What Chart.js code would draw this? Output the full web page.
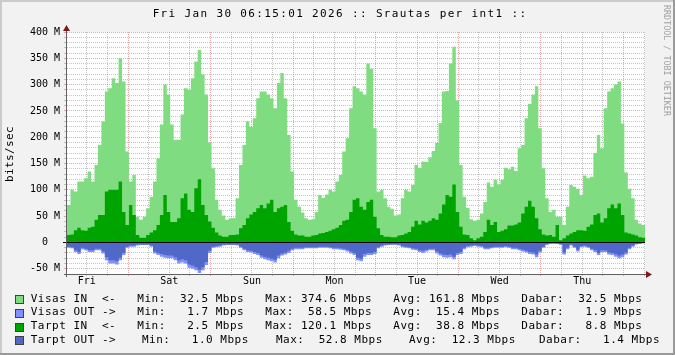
<!DOCTYPE html>
<html>
<head>
<meta charset="utf-8">
<title>Srautas per int1</title>
<script src="https://cdn.jsdelivr.net/npm/chart.js@4.4.1/dist/chart.umd.min.js"></script>
<style>
  html, body { margin: 0; padding: 0; background: #f2f2f2; }
  canvas { display: block; }
</style>
</head>
<body>
<canvas id="traffic_chart" width="675" height="355"></canvas>
<script>
// one value per hour, Fri Jan 23 06:15 .. Fri Jan 30 06:15 (Mbps)
var day_labels = ['Fri', 'Sat', 'Sun', 'Mon', 'Tue', 'Wed', 'Thu'];

var visas_in = [
  71,100,97,116,116,122,135,116,147,185,
  230,287,293,312,303,350,306,173,116,128,
  49,43,49,65,87,116,160,224,300,281,
  224,195,195,243,293,290,312,344,366,319,
  281,190,141,81,62,51,43,46,46,84,
  147,185,230,220,236,274,287,287,281,274,
  255,303,322,274,204,135,81,68,57,46,
  43,44,58,90,85,91,100,97,116,128,
  173,198,255,297,293,287,281,340,330,217,
  97,100,84,68,64,51,53,84,100,97,
  109,147,142,154,153,162,174,189,227,287,
  288,340,372,270,147,87,66,44,41,43,
  55,77,114,106,119,110,119,142,139,144,
  136,179,185,236,263,281,297,217,141,84,
  58,62,49,49,33,68,109,106,102,90,
  127,122,125,170,204,179,255,287,293,300,
  306,226,133,102,84,43,36,33
];

var tarpt_in = [
  14,15,23,28,23,22,28,30,43,52,
  52,97,100,100,100,116,58,33,71,52,
  14,9,9,14,19,23,33,52,90,58,
  39,39,46,84,93,62,58,103,120,71,
  52,40,28,19,13,11,11,14,14,15,
  27,33,46,53,58,65,71,65,74,81,
  58,65,68,71,39,22,15,13,13,11,
  11,13,14,17,18,20,22,25,28,33,
  41,43,58,81,84,68,62,77,81,49,
  27,14,11,11,10,10,13,14,17,20,
  30,41,34,41,38,41,46,43,55,72,
  90,87,110,58,30,15,14,8,4,8,
  11,20,43,33,39,20,22,25,32,32,
  34,38,55,68,79,68,46,25,15,13,
  14,11,33,4,8,13,17,20,23,23,
  22,30,34,52,55,38,46,65,72,65,
  74,52,19,17,15,13,10,9
];

// OUT traffic is drawn below zero
var visas_out = [
  10,11,18,22,13,15,18,18,15,15,
  21,34,40,40,42,34,24,10,8,8,
  6,5,5,5,8,21,24,27,29,30,
  30,34,40,38,40,48,50,53,58,53,
  43,20,10,9,8,6,5,5,5,6,
  10,15,18,19,22,24,29,32,34,36,
  38,30,25,23,20,15,13,13,13,11,
  11,11,11,10,10,10,11,13,13,14,
  15,17,21,24,34,36,27,24,24,22,
  11,8,6,5,5,5,6,9,10,11,
  14,15,18,20,17,15,15,21,25,28,
  29,28,32,24,22,13,9,8,7,8,
  9,13,13,11,10,10,10,9,10,13,
  13,15,17,19,22,23,28,19,10,5,
  3,3,3,5,23,13,6,10,17,9,
  8,10,15,18,24,18,18,23,24,27,
  30,28,23,13,8,4,3,2
];

var tarpt_out = [
  8,9,15,18,10,12,15,15,12,12,
  17,28,34,34,36,29,20,8,6,6,
  4,4,4,4,6,17,20,22,24,25,
  25,28,34,32,34,42,44,47,52,47,
  37,16,8,7,6,4,4,4,4,4,
  8,12,15,16,18,20,25,27,29,31,
  33,25,21,19,16,12,10,10,10,9,
  9,9,9,8,8,8,9,10,10,11,
  12,14,17,20,29,31,22,20,20,18,
  9,6,4,4,3,3,4,7,8,9,
  11,12,15,16,14,12,12,17,21,23,
  24,23,27,20,18,10,7,6,5,6,
  7,10,10,9,8,8,8,7,8,10,
  10,12,14,16,18,19,23,16,8,3,
  2,1,2,3,19,10,4,8,14,7,
  6,8,12,15,20,15,15,19,20,22,
  25,23,19,10,6,3,2,1
];

var legend_names = ['Visas IN  <-', 'Visas OUT ->', 'Tarpt IN  <-', 'Tarpt OUT ->'];
var legend_min = ['32.5', '1.7', '2.5', '1.0'];
var legend_max = ['374.6', '58.5', '120.1', '52.8'];
var legend_avg = ['161.8', '15.4', '38.8', '12.3'];
var legend_cur = ['32.5', '1.9', '8.8', '1.4'];

var series_colors = ['#80dc80', '#8090ff', '#00a400', '#5068c8'];

var MONO = '"DejaVu Sans Mono", "Liberation Mono", monospace';
var GRID_MINOR = 'rgba(140,140,140,0.5)';
var GRID_MAJOR = 'rgba(200,70,70,0.45)';

// stepped area: every hourly value holds until the next hour
var to_points = function(values, sign) {
  var pts = values.map(function(v, i) { return {x: i, y: sign * v}; });
  pts.push({x: values.length, y: sign * values[values.length - 1]});
  return pts;
};

var pad5 = function(s) {
  while (s.length < 5) s = ' ' + s;
  return s;
};

var rrd_decor = {
  id: 'rrd_decor',
  beforeDraw: function(chart) {
    var ctx = chart.ctx, a = chart.chartArea, w = chart.width, h = chart.height;
    ctx.save();
    ctx.fillStyle = '#f2f2f2';
    ctx.fillRect(0, 0, w, h);
    ctx.fillStyle = '#cbcbcb';
    ctx.fillRect(0, 0, w, 2);
    ctx.fillRect(0, 0, 2, h);
    ctx.fillStyle = '#999999';
    ctx.fillRect(0, h - 2, w, 2);
    ctx.fillRect(w - 2, 0, 2, h);
    ctx.fillStyle = '#ffffff';
    ctx.fillRect(a.left, a.top, a.right - a.left, a.bottom - a.top);
    ctx.restore();
  },
  afterDatasetsDraw: function(chart) {
    var ctx = chart.ctx, a = chart.chartArea;
    var y0 = Math.round(chart.scales.y.getPixelForValue(0)) + 0.5;
    ctx.save();
    // zero rule
    ctx.strokeStyle = '#000000';
    ctx.lineWidth = 1;
    ctx.beginPath();
    ctx.moveTo(a.left - 4, y0);
    ctx.lineTo(a.right, y0);
    ctx.stroke();
    // axes
    ctx.strokeStyle = '#606060';
    ctx.beginPath();
    ctx.moveTo(a.left - 0.5, a.bottom + 3);
    ctx.lineTo(a.left - 0.5, a.top - 1);
    ctx.moveTo(a.left - 3, a.bottom + 0.5);
    ctx.lineTo(a.right + 2, a.bottom + 0.5);
    ctx.stroke();
    // arrows
    ctx.fillStyle = '#801818';
    ctx.beginPath();
    ctx.moveTo(a.left - 0.5, a.top - 7);
    ctx.lineTo(a.left - 4, a.top - 1);
    ctx.lineTo(a.left + 3, a.top - 1);
    ctx.closePath();
    ctx.fill();
    ctx.beginPath();
    ctx.moveTo(a.right + 7, a.bottom + 0.5);
    ctx.lineTo(a.right + 1, a.bottom - 3);
    ctx.lineTo(a.right + 1, a.bottom + 4);
    ctx.closePath();
    ctx.fill();
    ctx.restore();
  },
  afterDraw: function(chart) {
    var ctx = chart.ctx;
    ctx.save();
    ctx.fillStyle = '#000000';
    ctx.textBaseline = 'middle';

    // title
    ctx.font = '11px ' + MONO;
    ctx.letterSpacing = '1.35px';
    ctx.textAlign = 'center';
    ctx.fillText('Fri Jan 30 06:15:01 2026 :: Srautas per int1 ::', 340, 14);

    // unit
    ctx.letterSpacing = '0.4px';
    ctx.save();
    ctx.translate(10, 154);
    ctx.rotate(-Math.PI / 2);
    ctx.fillText('bits/sec', 0, 0);
    ctx.restore();

    // watermark
    ctx.save();
    ctx.font = '8.4px ' + MONO;
    ctx.letterSpacing = '0px';
    ctx.fillStyle = '#a0a0a0';
    ctx.textAlign = 'left';
    ctx.translate(666, 5);
    ctx.rotate(Math.PI / 2);
    ctx.fillText('RRDTOOL / TOBI OETIKER', 0, 0);
    ctx.restore();

    // legend
    var field_x = [
      [137.3, 265.3, 393.3, 521.3],
      [137.3, 265.3, 393.3, 521.3],
      [137.3, 265.3, 393.3, 521.3],
      [142, 276, 409, 539]
    ];
    ctx.font = '11px ' + MONO;
    ctx.letterSpacing = '0.5px';
    ctx.textAlign = 'left';
    for (var i = 0; i < legend_names.length; i++) {
      var cy = 298.7 + i * 13.9;
      ctx.fillStyle = '#404040';
      ctx.fillRect(15, Math.round(cy) - 4, 9, 9);
      ctx.fillStyle = series_colors[i];
      ctx.fillRect(16, Math.round(cy) - 3, 7, 7);
      ctx.fillStyle = '#000000';
      ctx.fillText(legend_names[i], 30.7, cy);
      ctx.fillText('Min: ' + pad5(legend_min[i]) + ' Mbps', field_x[i][0], cy);
      ctx.fillText('Max: ' + pad5(legend_max[i]) + ' Mbps', field_x[i][1], cy);
      ctx.fillText('Avg: ' + pad5(legend_avg[i]) + ' Mbps', field_x[i][2], cy);
      ctx.fillText('Dabar: ' + pad5(legend_cur[i]) + ' Mbps', field_x[i][3], cy);
    }
    ctx.restore();
  }
};

var x_grid_color = function(ctx) {
  var v = ctx.tick ? ctx.tick.value : 0;
  return Math.round(v - 17.75) % 24 === 0 ? GRID_MAJOR : GRID_MINOR;
};

var y_grid_color = function(ctx) {
  var v = ctx.tick ? ctx.tick.value : 1;
  if (v === 0) return '#000000';
  return v % 50 === 0 ? GRID_MAJOR : GRID_MINOR;
};

var chart_traffic = new Chart(document.getElementById('traffic_chart').getContext('2d'), {
  type: 'line',
  data: {
    datasets: [
      { label: 'Visas IN', data: to_points(visas_in, 1), backgroundColor: series_colors[0], order: 4 },
      { label: 'Visas OUT', data: to_points(visas_out, -1), backgroundColor: series_colors[1], order: 3 },
      { label: 'Tarpt IN', data: to_points(tarpt_in, 1), backgroundColor: series_colors[2], order: 2 },
      { label: 'Tarpt OUT', data: to_points(tarpt_out, -1), backgroundColor: series_colors[3], order: 1 }
    ].map(function(ds) {
      ds.fill = 'origin';
      ds.stepped = 'before';
      ds.borderColor = 'rgba(0,0,0,0)';
      ds.borderWidth = 0;
      ds.pointRadius = 0;
      return ds;
    })
  },
  options: {
    responsive: false,
    animation: false,
    events: [],
    layout: { padding: { left: 7, right: 30, top: 32, bottom: 67 } },
    plugins: {
      legend: { display: false },
      tooltip: { enabled: false },
      title: { display: false }
    },
    scales: {
      x: {
        type: 'linear',
        min: 0,
        max: 168,
        afterBuildTicks: function(scale) {
          var t = [];
          for (var v = 5.75; v < 168; v += 6) t.push({value: v});
          scale.ticks = t;
        },
        afterFit: function(scale) { scale.height = 14; },
        ticks: {
          autoSkip: false,
          maxRotation: 0,
          padding: 0,
          color: '#000000',
          font: { family: MONO, size: 10, lineHeight: 1 },
          callback: function(value) {
            var k = Math.round(value - 5.75);
            return k % 24 === 0 ? day_labels[k / 24] : '';
          }
        },
        grid: { color: x_grid_color, tickColor: x_grid_color, tickLength: 2, lineWidth: 1 },
        border: { display: false, dash: [1, 1] }
      },
      y: {
        type: 'linear',
        min: -60,
        max: 400,
        afterBuildTicks: function(scale) {
          var t = [];
          for (var v = -50; v <= 400; v += 10) t.push({value: v});
          scale.ticks = t;
        },
        afterFit: function(scale) { scale.width = 60; },
        ticks: {
          autoSkip: false,
          padding: 4,
          color: '#000000',
          font: { family: MONO, size: 10 },
          callback: function(value) {
            if (value % 50 !== 0) return '';
            return value === 0 ? '0  ' : value + ' M';
          }
        },
        grid: { color: y_grid_color, tickColor: y_grid_color, tickLength: 3, lineWidth: 1 },
        border: { display: false, dash: [1, 1] }
      }
    }
  },
  plugins: [rrd_decor]
});
</script>
</body>
</html>
